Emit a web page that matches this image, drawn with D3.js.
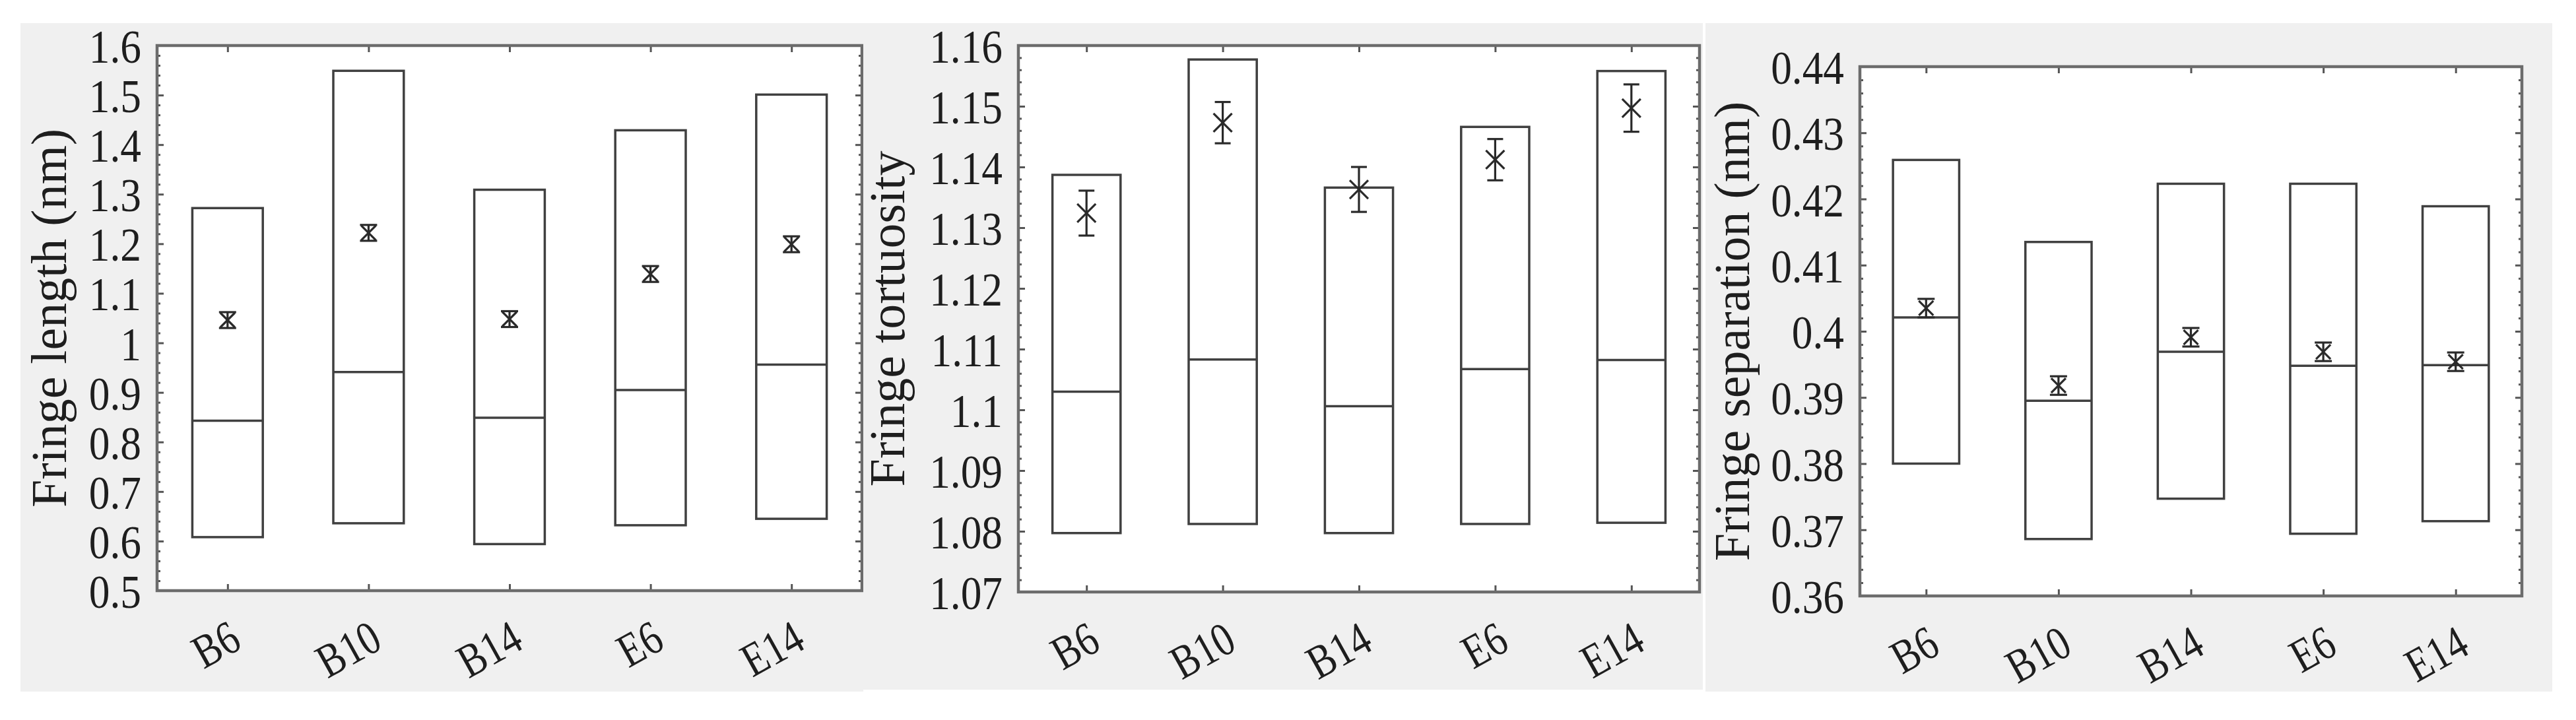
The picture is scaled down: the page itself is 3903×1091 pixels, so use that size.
<!DOCTYPE html>
<html><head><meta charset="utf-8">
<script src="https://cdn.jsdelivr.net/npm/d3@7"></script>
<style>body{margin:0;background:#fff}svg{display:block}</style>
</head><body><svg id="c" width="3903" height="1091"></svg>
<script>
// ---------- data ----------
const categories = ["B6", "B10", "B14", "E6", "E14"];

const lengthHigh = [1.272, 1.549, 1.309, 1.429, 1.501];
const lengthLow  = [0.608, 0.636, 0.594, 0.632, 0.645];
const lengthMid  = [0.843, 0.941, 0.849, 0.905, 0.956];
const lengthMean = [1.046, 1.222, 1.048, 1.139, 1.199];
const lengthErr  = [0.016, 0.016, 0.016, 0.016, 0.016];
const lengthTicks = [0.5, 0.6, 0.7, 0.8, 0.9, 1.0, 1.1, 1.2, 1.3, 1.4, 1.5, 1.6];
const lengthTickLabels = ["0.5","0.6","0.7","0.8","0.9","1","1.1","1.2","1.3","1.4","1.5","1.6"];

const tortHigh = [1.1387, 1.1577, 1.1366, 1.1466, 1.1558];
const tortLow  = [1.0797, 1.0812, 1.0797, 1.0812, 1.0814];
const tortMid  = [1.1030, 1.1083, 1.1006, 1.1067, 1.1082];
const tortMean = [1.1324, 1.1473, 1.1363, 1.1412, 1.1497];
const tortErr  = [0.0037, 0.0034, 0.0037, 0.0034, 0.0039];
const tortTicks = [1.07, 1.08, 1.09, 1.10, 1.11, 1.12, 1.13, 1.14, 1.15, 1.16];
const tortTickLabels = ["1.07","1.08","1.09","1.1","1.11","1.12","1.13","1.14","1.15","1.16"];

const sepHigh = [0.4259, 0.4135, 0.4223, 0.4223, 0.4189];
const sepLow  = [0.3800, 0.3686, 0.3747, 0.3694, 0.3713];
const sepMid  = [0.4021, 0.3895, 0.3969, 0.3948, 0.3949];
const sepMean = [0.4035, 0.3918, 0.3991, 0.3969, 0.3954];
const sepErr  = [0.0014, 0.0014, 0.0014, 0.0014, 0.0014];
const sepTicks = [0.36, 0.37, 0.38, 0.39, 0.40, 0.41, 0.42, 0.43, 0.44];
const sepTickLabels = ["0.36","0.37","0.38","0.39","0.4","0.41","0.42","0.43","0.44"];

const yTitles = ["Fringe length (nm)", "Fringe tortuosity", "Fringe separation (nm)"];

// ---------- layout ----------
const panels = [
  {bg:[31,35,1308,1048], plot:[238,69,1306,895], ylabX:100,
   high:lengthHigh, low:lengthLow, mid:lengthMid, mean:lengthMean, err:lengthErr,
   ticks:lengthTicks, tickLabels:lengthTickLabels, title:yTitles[0], xh:11, cap:13},
  {bg:[1308,35,2580,1045], plot:[1543,69,2575,897], ylabX:1370,
   high:tortHigh, low:tortLow, mid:tortMid, mean:tortMean, err:tortErr,
   ticks:tortTicks, tickLabels:tortTickLabels, title:yTitles[1], xh:14, cap:12},
  {bg:[2584,35,3867,1048], plot:[2818,101,3821,903], ylabX:2650,
   high:sepHigh, low:sepLow, mid:sepMid, mean:sepMean, err:sepErr,
   ticks:sepTicks, tickLabels:sepTickLabels, title:yTitles[2], xh:11, cap:13}
];

const svg = d3.select("#c");
const FONT = "'Liberation Serif','Times New Roman',serif";
const boxColor = "#404040", axisColor = "#6c6c6c", textColor = "#1e1e1e";

panels.forEach(p => {
  const [L, T, R, B] = p.plot;
  const g = svg.append("g");
  g.append("rect").attr("x", p.bg[0]).attr("y", p.bg[1])
    .attr("width", p.bg[2]-p.bg[0]).attr("height", p.bg[3]-p.bg[1]).attr("fill", "#f0f0f0");
  g.append("rect").attr("x", L).attr("y", T).attr("width", R-L).attr("height", B-T).attr("fill", "#fff");

  const x = d3.scalePoint().domain(categories).range([L, R]).padding(0.5);
  const y = d3.scaleLinear().domain([p.ticks[0], p.ticks[p.ticks.length-1]]).range([B, T]);
  const hw = x.step() * 0.25;

  // minor ticks
  const step = p.ticks[1] - p.ticks[0];
  const minor = [];
  p.ticks.slice(0, -1).forEach(t => { for (let k = 1; k < 5; k++) minor.push(t + step*k/5); });

  const axG = g.append("g").attr("stroke-width", 3);
  const left = axG.append("g").attr("transform", `translate(${L},0)`)
    .call(d3.axisLeft(y).tickValues(p.ticks).tickSize(-10).tickFormat(""));
  const leftM = axG.append("g").attr("transform", `translate(${L},0)`)
    .call(d3.axisLeft(y).tickValues(minor).tickSize(-5).tickFormat(""));
  const right = axG.append("g").attr("transform", `translate(${R},0)`)
    .call(d3.axisRight(y).tickValues(p.ticks).tickSize(-10).tickFormat(""));
  const rightM = axG.append("g").attr("transform", `translate(${R},0)`)
    .call(d3.axisRight(y).tickValues(minor).tickSize(-5).tickFormat(""));
  const bottom = axG.append("g").attr("transform", `translate(0,${B})`)
    .call(d3.axisBottom(x).tickSize(-10).tickFormat(""));
  const top = axG.append("g").attr("transform", `translate(0,${T})`)
    .call(d3.axisTop(x).tickSize(-10).tickFormat(""));
  axG.selectAll(".domain").remove();
  axG.selectAll("line").attr("stroke", "#555").attr("stroke-width", 3);

  // boxes
  categories.forEach((c, i) => {
    const cx = x(c);
    g.append("rect").attr("x", cx-hw).attr("y", y(p.high[i]))
      .attr("width", 2*hw).attr("height", y(p.low[i]) - y(p.high[i]))
      .attr("fill", "none").attr("stroke", boxColor).attr("stroke-width", 3.5);
    g.append("line").attr("x1", cx-hw).attr("x2", cx+hw)
      .attr("y1", y(p.mid[i])).attr("y2", y(p.mid[i]))
      .attr("stroke", boxColor).attr("stroke-width", 3.5);
    // error bar
    const yt = y(p.mean[i] + p.err[i]), yb = y(p.mean[i] - p.err[i]), ym = y(p.mean[i]);
    const eg = g.append("g").attr("stroke", "#2a2a2a").attr("stroke-width", 3.2);
    eg.append("line").attr("x1", cx).attr("x2", cx).attr("y1", yt).attr("y2", yb);
    eg.append("line").attr("x1", cx-p.cap).attr("x2", cx+p.cap).attr("y1", yt).attr("y2", yt);
    eg.append("line").attr("x1", cx-p.cap).attr("x2", cx+p.cap).attr("y1", yb).attr("y2", yb);
    eg.append("line").attr("x1", cx-p.xh).attr("x2", cx+p.xh).attr("y1", ym-p.xh).attr("y2", ym+p.xh);
    eg.append("line").attr("x1", cx-p.xh).attr("x2", cx+p.xh).attr("y1", ym+p.xh).attr("y2", ym-p.xh);
  });

  // frame
  g.append("rect").attr("x", L).attr("y", T).attr("width", R-L).attr("height", B-T)
    .attr("fill", "none").attr("stroke", axisColor).attr("stroke-width", 4.5);

  // y tick labels
  p.ticks.forEach((t, i) => {
    g.append("text").attr("transform", `translate(${L-24},${y(t)+26}) scale(0.88,1)`)
      .attr("text-anchor", "end").attr("font-family", FONT).attr("font-size", 72)
      .attr("fill", textColor).text(p.tickLabels[i]);
  });
  // x tick labels
  categories.forEach(c => {
    g.append("text").attr("transform", `translate(${x(c)+24},${B+86}) rotate(-29) scale(0.82,1)`)
      .attr("text-anchor", "end").attr("font-family", FONT).attr("font-size", 72)
      .attr("fill", textColor).text(c);
  });
  // y title
  g.append("text").attr("transform", `translate(${p.ylabX},${(T+B)/2}) rotate(-90)`)
    .attr("text-anchor", "middle").attr("font-family", FONT).attr("font-size", 76)
    .attr("fill", textColor).text(p.title);
});
</script></body></html>
